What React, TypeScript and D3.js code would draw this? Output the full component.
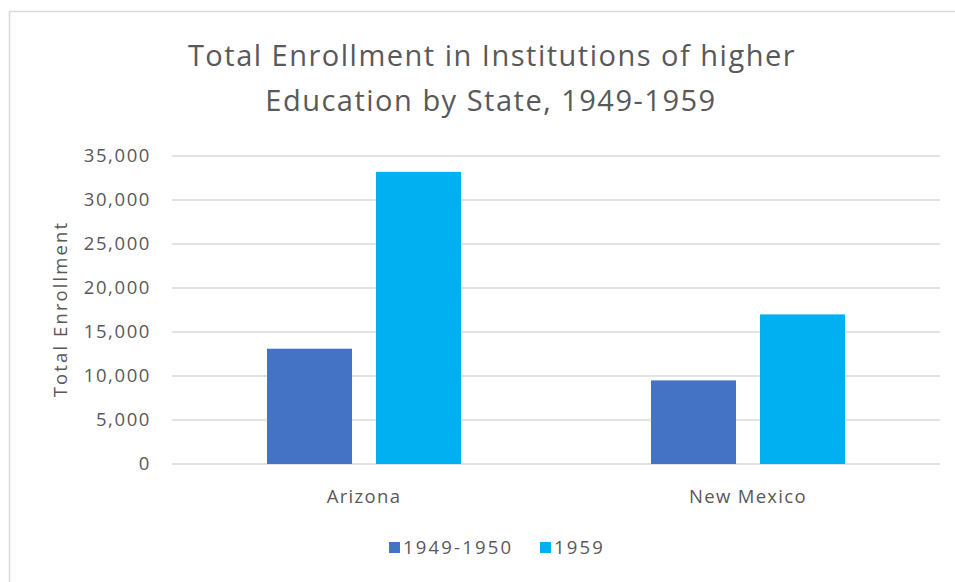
import React, { useEffect, useRef } from 'react';
import * as d3 from 'd3';

const states = ['Arizona', 'New Mexico'];
const seriesNames = ['1949-1950', '1959'];
const enroll4950 = [13100, 9500];
const enroll1959 = [33200, 17000];
const yTicks = [0, 5000, 10000, 15000, 20000, 25000, 30000, 35000];
const colors = ['#4472C4', '#00B0F0'];

const W = 955;
const H = 582;
const FONT = '"Open Sans", Lato, sans-serif';
const TXT = '#595959';

export default function App() {
  const svgRef = useRef<SVGSVGElement>(null);

  useEffect(() => {
    const svg = d3.select(svgRef.current);
    svg.selectAll('*').remove();

    // chart frame (right/bottom edges run off the picture)
    svg.append('rect').attr('x', 9.5).attr('y', 11.5).attr('width', 980).attr('height', 620)
      .attr('fill', '#fff').attr('stroke', '#D9D9D9').attr('stroke-width', 1.5);

    const left = 172, right = 940, top = 156, bottom = 464;
    const y = d3.scaleLinear().domain([0, 35000]).range([bottom, top]);
    const x0 = d3.scaleBand().domain(states).range([left, right]).padding(0);
    const groupW = 194;
    const x1 = d3.scaleBand().domain(seriesNames).range([0, groupW]).paddingInner(0.22);

    const small = (sel: any) => sel.attr('fill', TXT)
      .style('font-family', FONT).style('font-size', '18.5px').style('letter-spacing', '1.3px');

    const g = svg.append('g');

    // gridlines
    g.append('g').selectAll('line').data(yTicks).join('line')
      .attr('x1', left).attr('x2', right)
      .attr('y1', d => y(d)).attr('y2', d => y(d))
      .attr('stroke', '#D9D9D9').attr('stroke-width', 1.5);

    // y tick labels
    g.append('g').selectAll('text').data(yTicks).join('text')
      .attr('x', 151).attr('y', d => y(d)).attr('dy', '0.35em')
      .attr('text-anchor', 'end')
      .call(small).style('letter-spacing', '1.6px')
      .text(d => d3.format(',')(d));

    // bars
    const rows = states.map((s, i) => ({ state: s, vals: [enroll4950[i], enroll1959[i]] }));
    const grp = g.append('g').selectAll('g').data(rows).join('g')
      .attr('transform', d => `translate(${(x0(d.state) as number) + x0.bandwidth() / 2 - groupW / 2},0)`);
    grp.selectAll('rect').data(d => d.vals.map((v, j) => ({ k: seriesNames[j], v, j }))).join('rect')
      .attr('x', d => x1(d.k) as number).attr('width', x1.bandwidth())
      .attr('y', d => y(d.v)).attr('height', d => bottom - y(d.v))
      .attr('fill', d => colors[d.j]);

    // category labels
    g.append('g').selectAll('text').data(states).join('text')
      .attr('x', d => (x0(d) as number) + x0.bandwidth() / 2).attr('y', 503)
      .attr('text-anchor', 'middle')
      .call(small)
      .text(d => d);

    // y axis title
    svg.append('text').attr('transform', 'translate(67,309) rotate(-90)')
      .attr('text-anchor', 'middle')
      .call(small).style('letter-spacing', '2.1px')
      .text('Total Enrollment');

    // title
    const title = svg.append('text').attr('text-anchor', 'middle').attr('fill', TXT)
      .style('font-family', FONT).style('font-size', '29px').style('letter-spacing', '1.5px');
    title.append('tspan').attr('x', 492).attr('y', 66).text('Total Enrollment in Institutions of higher');
    title.append('tspan').attr('x', 491).attr('y', 111).text('Education by State, 1949-1959');

    // legend
    const legendX = [389, 540];
    const lg = svg.append('g').selectAll('g').data(seriesNames).join('g')
      .attr('transform', (d, i) => `translate(${legendX[i]},542)`);
    lg.append('rect').attr('width', 11).attr('height', 11).attr('fill', (d, i) => colors[i]);
    lg.append('text').attr('x', 14).attr('y', 6).attr('dy', '0.35em')
      .call(small).style('letter-spacing', '2.2px')
      .text(d => d);
  }, []);

  return (
    <div style={{ position: 'fixed', left: 0, top: 0, width: W, height: H, background: '#fff' }}>
      <svg ref={svgRef} width={W} height={H} />
    </div>
  );
}
